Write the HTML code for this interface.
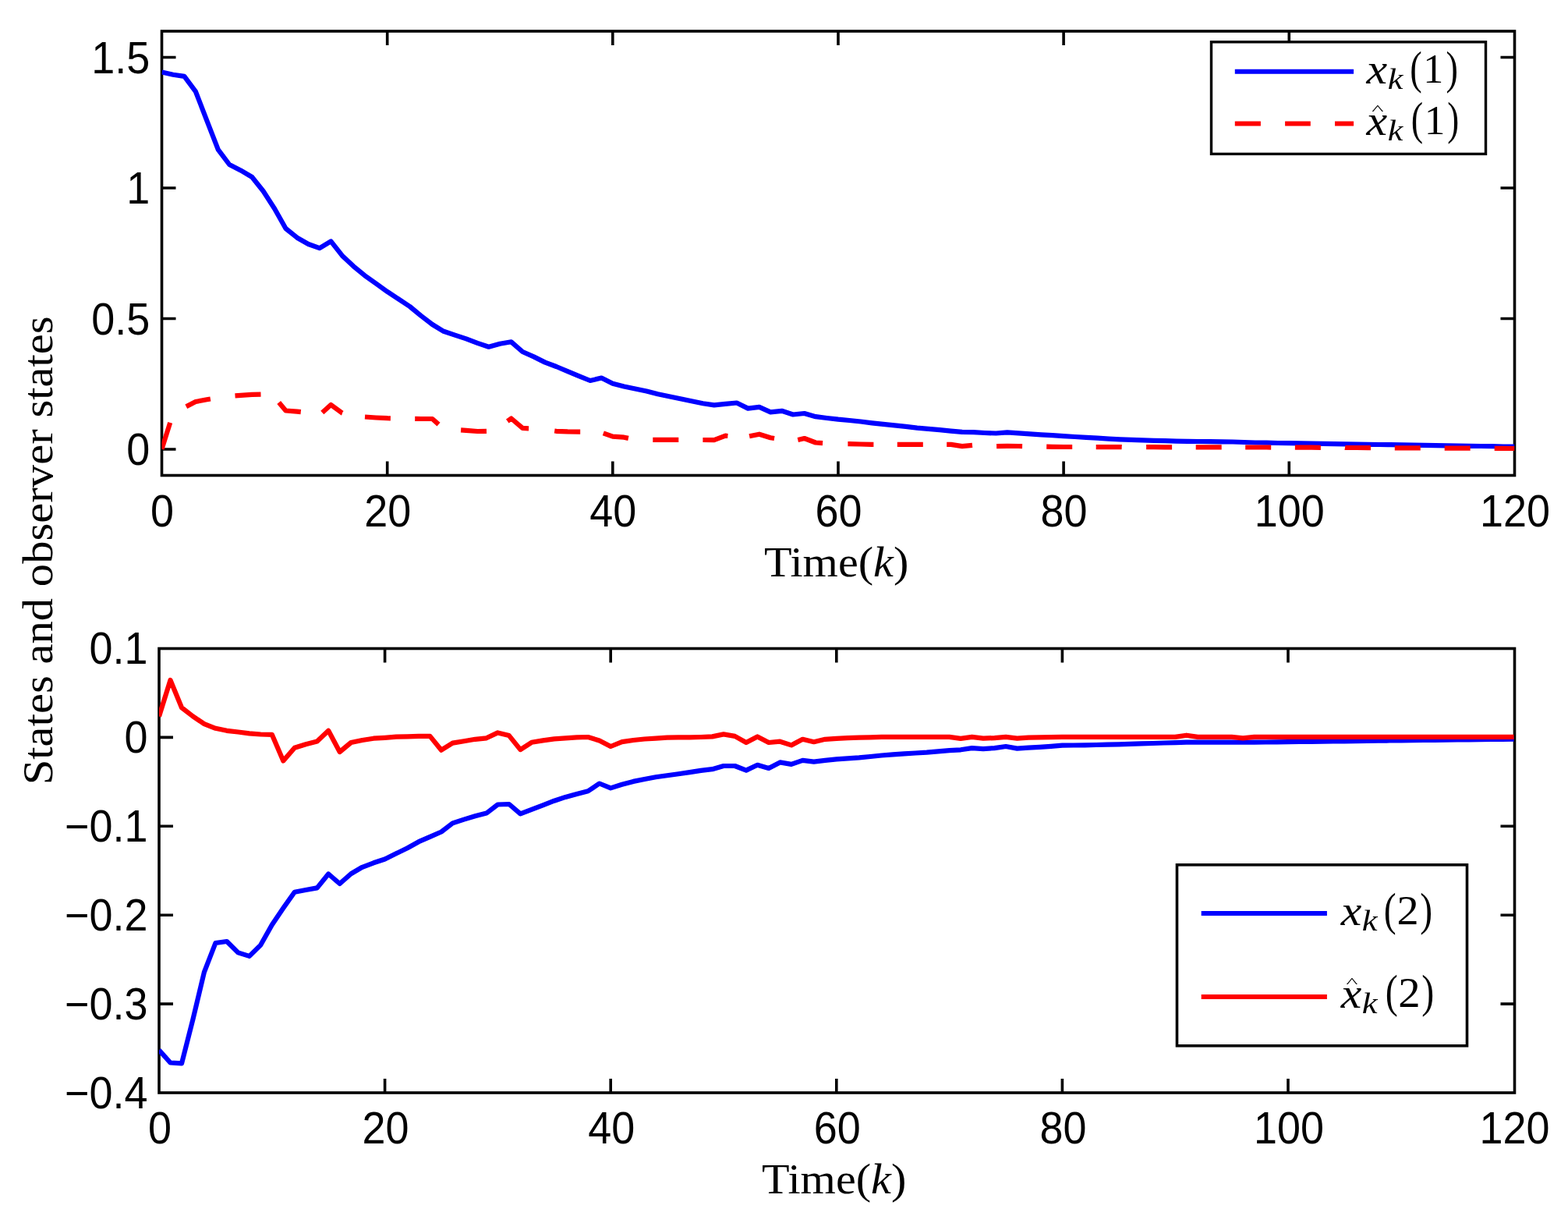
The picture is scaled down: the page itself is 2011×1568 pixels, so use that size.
<!DOCTYPE html>
<html><head><meta charset="utf-8"><title>States and observer states</title>
<style>html,body{margin:0;padding:0;background:#fff;overflow:hidden}svg{display:block}
.tk{font-family:"Liberation Sans",Arial,Helvetica,sans-serif;font-size:56.5px;fill:#000}
.lx{font-family:"Liberation Serif","Times New Roman",serif;fill:#000}
.it{font-style:italic}</style></head><body>
<svg width="2011" height="1568" viewBox="0 0 2011 1568">
<rect x="0" y="0" width="2011" height="1568" fill="#fff"/>
<defs><clipPath id="ct"><rect x="207.5" y="40" width="1735" height="569.5"/></clipPath><clipPath id="cb"><rect x="204" y="831.5" width="1738.5" height="569.5"/></clipPath></defs>
<rect x="207.5" y="40.0" width="1735.0" height="569.5" fill="none" stroke="#000" stroke-width="3.6"/>
<path d="M496.7 609.5V591.5M496.7 40.0V58.0M785.8 609.5V591.5M785.8 40.0V58.0M1075.0 609.5V591.5M1075.0 40.0V58.0M1364.1 609.5V591.5M1364.1 40.0V58.0M1653.3 609.5V591.5M1653.3 40.0V58.0M207.5 576.0H225.5M1942.5 576.0H1924.5M207.5 408.5H225.5M1942.5 408.5H1924.5M207.5 241.0H225.5M1942.5 241.0H1924.5M207.5 73.5H225.5M1942.5 73.5H1924.5" stroke="#000" stroke-width="3.6" fill="none"/>
<g clip-path="url(#ct)">
<path d="M207.5,92.4 L222.0,95.7 L236.4,97.9 L250.9,117.3 L265.3,154.6 L279.8,191.9 L294.2,211.0 L308.7,218.4 L323.2,227.0 L337.6,245.0 L352.1,267.5 L366.5,293.0 L381.0,304.7 L395.5,313.0 L409.9,318.2 L424.4,309.4 L438.8,327.7 L453.3,341.3 L467.7,353.2 L482.2,363.5 L496.7,373.9 L511.1,383.4 L525.6,393.0 L540.0,404.9 L554.5,416.0 L569.0,424.8 L583.4,429.6 L597.9,434.4 L612.3,439.9 L626.8,444.7 L641.2,440.7 L655.7,438.3 L670.2,451.0 L684.6,457.4 L699.1,464.6 L713.5,470.0 L728.0,476.1 L742.4,482.1 L756.9,488.0 L771.4,484.6 L785.8,491.8 L800.3,495.5 L814.7,498.5 L829.2,501.5 L843.7,505.2 L858.1,508.2 L872.6,511.2 L887.0,514.2 L901.5,517.2 L915.9,519.4 L930.4,517.9 L944.9,516.5 L959.3,523.6 L973.8,521.9 L988.2,528.3 L1002.7,526.8 L1017.1,531.5 L1031.6,530.0 L1046.1,534.2 L1060.5,536.0 L1075.0,537.7 L1089.4,539.0 L1103.9,540.5 L1118.4,542.3 L1132.8,543.8 L1147.3,545.3 L1161.7,546.8 L1176.2,548.6 L1190.6,549.8 L1205.1,551.2 L1219.6,552.7 L1234.0,553.9 L1248.5,554.2 L1262.9,555.0 L1277.4,555.5 L1291.8,554.4 L1306.3,555.4 L1320.8,556.3 L1335.2,557.3 L1349.7,558.2 L1364.1,559.2 L1378.6,560.0 L1393.1,560.9 L1407.5,561.7 L1422.0,562.6 L1436.4,563.4 L1450.9,563.9 L1465.3,564.3 L1479.8,564.8 L1494.3,565.2 L1508.7,565.7 L1523.2,565.9 L1537.6,566.0 L1552.1,566.2 L1566.6,566.3 L1581.0,566.5 L1595.5,567.0 L1609.9,567.5 L1624.4,567.7 L1638.8,568.0 L1653.3,568.2 L1667.8,568.4 L1682.2,568.6 L1696.7,568.9 L1711.1,569.1 L1725.6,569.3 L1740.0,569.5 L1754.5,569.8 L1769.0,570.0 L1783.4,570.2 L1797.9,570.4 L1812.3,570.7 L1826.8,570.9 L1841.3,571.1 L1855.7,571.3 L1870.2,571.6 L1884.6,571.8 L1899.1,572.0 L1913.5,572.2 L1928.0,572.5 L1942.5,572.7" fill="none" stroke="#0000ff" stroke-width="6.2" stroke-linejoin="round"/>
<path d="M207.5,575.7 L218.2,541.9M238.8,521.3 L250.9,515.0 L265.3,512.3 L269.9,511.5M301.5,507.3 L308.7,506.8 L323.2,505.9 L334.5,505.6M357.7,516.1 L366.5,526.5 L381.0,527.7 L385.8,528.2M413.3,529.0 L424.4,519.0 L438.8,529.5 L439.1,529.6M468.0,534.5 L482.2,535.5 L496.7,536.2 L500.9,536.3M532.2,536.9 L540.0,537.0 L554.5,537.0 L562.5,544.1M591.1,551.4 L597.9,551.9 L612.3,553.0 L624.0,552.8M650.8,540.0 L655.7,536.5 L670.2,548.9 L678.1,549.3M711.2,552.5 L713.5,552.8 L728.0,553.4 L742.4,553.6 L744.2,553.6M773.8,555.3 L785.8,559.7 L800.3,560.7 L805.9,561.9M837.3,563.9 L843.7,563.9 L858.1,563.9 L870.3,563.9M901.4,564.0 L901.5,564.0 L915.9,564.1 L930.4,558.7 L933.4,559.0M961.1,559.3 L973.8,556.7 L988.2,561.2 L993.1,562.0M1023.3,563.9 L1031.6,562.0 L1046.1,567.5 L1055.1,568.1M1087.4,569.1 L1089.4,569.1 L1103.9,569.5 L1118.4,569.9 L1120.4,569.9M1150.8,569.9 L1161.7,569.9 L1176.2,569.9 L1183.8,569.9M1214.2,569.9 L1219.6,569.9 L1234.0,572.1 L1247.0,570.8M1278.1,572.1 L1291.8,571.8 L1306.3,572.0 L1311.1,572.1M1342.2,572.6 L1349.7,572.8 L1364.1,573.0 L1375.2,573.0M1405.7,573.1 L1407.5,573.1 L1422.0,573.1 L1436.4,573.1 L1438.7,573.2M1470.1,573.2 L1479.8,573.2 L1494.3,573.3 L1503.1,573.3M1533.7,573.4 L1537.6,573.4 L1552.1,573.4 L1566.6,573.4 L1566.7,573.4M1597.2,573.5 L1609.9,573.5 L1624.4,573.5 L1630.2,573.6M1660.9,573.6 L1667.8,573.7 L1682.2,573.7 L1693.9,573.8M1725.0,573.9 L1725.6,574.0 L1740.0,574.0 L1754.5,574.1 L1758.0,574.1M1788.8,574.3 L1797.9,574.3 L1812.3,574.4 L1821.8,574.4M1852.7,574.6 L1855.7,574.6 L1870.2,574.6 L1884.6,574.7 L1885.7,574.7M1916.7,574.9 L1928.0,574.9 L1942.5,575.0" fill="none" stroke="#ff0000" stroke-width="6.2" stroke-linejoin="round"/>
</g>
<text class="tk" text-anchor="middle" transform="translate(208.0 675) scale(0.955 1)">0</text>
<text class="tk" text-anchor="middle" transform="translate(497.2 675) scale(0.955 1)">20</text>
<text class="tk" text-anchor="middle" transform="translate(786.3 675) scale(0.955 1)">40</text>
<text class="tk" text-anchor="middle" transform="translate(1075.5 675) scale(0.955 1)">60</text>
<text class="tk" text-anchor="middle" transform="translate(1364.6 675) scale(0.955 1)">80</text>
<text class="tk" text-anchor="middle" transform="translate(1653.8 675) scale(0.955 1)">100</text>
<text class="tk" text-anchor="middle" transform="translate(1943.0 675) scale(0.955 1)">120</text>
<text class="tk" text-anchor="end" transform="translate(192.3 596.3) scale(0.955 1)">0</text>
<text class="tk" text-anchor="end" transform="translate(192.3 428.8) scale(0.955 1)">0.5</text>
<text class="tk" text-anchor="end" transform="translate(192.3 261.3) scale(0.955 1)">1</text>
<text class="tk" text-anchor="end" transform="translate(192.3 93.8) scale(0.955 1)">1.5</text>
<rect x="204.0" y="831.5" width="1738.5" height="569.5" fill="none" stroke="#000" stroke-width="3.6"/>
<path d="M493.6 1401.0V1383.0M493.6 831.5V849.5M783.2 1401.0V1383.0M783.2 831.5V849.5M1072.8 1401.0V1383.0M1072.8 831.5V849.5M1362.4 1401.0V1383.0M1362.4 831.5V849.5M1652.0 1401.0V1383.0M1652.0 831.5V849.5M204.0 945.4H222.0M1942.5 945.4H1924.5M204.0 1059.3H222.0M1942.5 1059.3H1924.5M204.0 1173.2H222.0M1942.5 1173.2H1924.5M204.0 1287.1H222.0M1942.5 1287.1H1924.5" stroke="#000" stroke-width="3.6" fill="none"/>
<g clip-path="url(#cb)">
<path d="M204.0,1346.4 L218.5,1362.5 L233.0,1363.4 L247.4,1307.0 L261.9,1246.4 L276.4,1209.0 L290.9,1207.0 L305.4,1221.4 L319.8,1225.9 L334.3,1211.6 L348.8,1185.7 L363.3,1164.3 L377.8,1143.8 L392.2,1141.0 L406.7,1138.4 L421.2,1120.5 L435.7,1133.0 L450.2,1120.2 L464.6,1111.8 L479.1,1106.3 L493.6,1101.5 L508.1,1094.3 L522.6,1087.2 L537.0,1079.2 L551.5,1072.9 L566.0,1066.5 L580.5,1055.4 L595.0,1050.6 L609.4,1046.3 L623.9,1042.6 L638.4,1031.5 L652.9,1031.0 L667.4,1043.4 L681.8,1037.8 L696.3,1032.3 L710.8,1026.7 L725.3,1021.9 L739.8,1018.0 L754.2,1014.3 L768.7,1004.5 L783.2,1010.4 L797.7,1005.8 L812.2,1001.9 L826.6,999.0 L841.1,996.3 L855.6,994.3 L870.1,992.3 L884.6,990.1 L899.0,987.9 L913.5,986.2 L928.0,982.0 L942.5,982.0 L957.0,987.6 L971.4,980.8 L985.9,985.0 L1000.4,977.4 L1014.9,979.9 L1029.4,974.9 L1043.8,976.6 L1058.3,974.9 L1072.8,973.4 L1087.3,972.4 L1101.8,971.4 L1116.2,970.0 L1130.7,968.5 L1145.2,967.4 L1159.7,966.3 L1174.2,965.5 L1188.6,964.7 L1203.1,963.4 L1217.6,962.1 L1232.1,961.3 L1246.6,959.1 L1261.0,960.1 L1275.5,959.1 L1290.0,957.0 L1304.5,959.6 L1319.0,958.7 L1333.4,957.9 L1347.9,956.8 L1362.4,955.7 L1376.9,955.5 L1391.4,955.4 L1405.8,955.0 L1420.3,954.6 L1434.8,954.3 L1449.3,953.9 L1463.8,953.4 L1478.2,953.0 L1492.7,952.5 L1507.2,952.1 L1521.7,951.6 L1536.2,951.6 L1550.6,951.6 L1565.1,951.6 L1579.6,951.6 L1594.1,951.6 L1608.6,951.6 L1623.0,951.5 L1637.5,951.3 L1652.0,951.2 L1666.5,951.0 L1681.0,950.9 L1695.4,950.7 L1709.9,950.5 L1724.4,950.3 L1738.9,950.1 L1753.4,949.9 L1767.8,949.7 L1782.3,949.5 L1796.8,949.3 L1811.3,949.1 L1825.8,948.9 L1840.2,948.8 L1854.7,948.6 L1869.2,948.5 L1883.7,948.3 L1898.2,948.2 L1912.6,948.0 L1927.1,947.9 L1941.6,947.7" fill="none" stroke="#0000ff" stroke-width="6.2" stroke-linejoin="round"/>
<path d="M204.0,918.5 L218.5,872.0 L233.0,907.2 L247.4,918.4 L261.9,928.1 L276.4,933.8 L290.9,936.8 L305.4,938.5 L319.8,940.3 L334.3,941.5 L348.8,941.8 L363.3,975.5 L377.8,958.7 L392.2,954.2 L406.7,950.5 L421.2,936.8 L435.7,964.0 L450.2,952.0 L464.6,949.0 L479.1,946.7 L493.6,945.8 L508.1,944.7 L522.6,944.3 L537.0,943.9 L551.5,943.9 L566.0,961.7 L580.5,952.6 L595.0,950.2 L609.4,947.8 L623.9,946.3 L638.4,939.4 L652.9,943.1 L667.4,961.1 L681.8,951.8 L696.3,949.4 L710.8,947.4 L725.3,946.3 L739.8,945.4 L754.2,945.0 L768.7,949.5 L783.2,957.0 L797.7,951.1 L812.2,949.0 L826.6,947.5 L841.1,946.6 L855.6,945.6 L870.1,945.3 L884.6,945.3 L899.0,945.0 L913.5,944.4 L928.0,941.4 L942.5,943.9 L957.0,952.0 L971.4,944.4 L985.9,952.0 L1000.4,950.7 L1014.9,955.4 L1029.4,947.8 L1043.8,951.2 L1058.3,947.8 L1072.8,946.8 L1087.3,946.2 L1101.8,945.7 L1116.2,945.3 L1130.7,944.9 L1145.2,944.9 L1159.7,944.9 L1174.2,944.9 L1188.6,944.9 L1203.1,944.9 L1217.6,944.9 L1232.1,946.9 L1246.6,944.9 L1261.0,946.6 L1275.5,946.1 L1290.0,944.9 L1304.5,946.6 L1319.0,945.6 L1333.4,945.4 L1347.9,945.1 L1362.4,944.9 L1376.9,944.9 L1391.4,944.9 L1405.8,944.9 L1420.3,944.9 L1434.8,944.9 L1449.3,944.9 L1463.8,944.9 L1478.2,944.9 L1492.7,944.9 L1507.2,944.9 L1521.7,942.7 L1536.2,944.9 L1550.6,944.9 L1565.1,944.9 L1579.6,944.9 L1594.1,946.4 L1608.6,944.9 L1623.0,944.9 L1637.5,944.9 L1652.0,944.9 L1666.5,944.9 L1681.0,944.9 L1695.4,944.9 L1709.9,944.9 L1724.4,944.9 L1738.9,944.9 L1753.4,944.9 L1767.8,944.9 L1782.3,944.9 L1796.8,944.9 L1811.3,944.9 L1825.8,944.9 L1840.2,944.9 L1854.7,944.9 L1869.2,944.9 L1883.7,944.9 L1898.2,944.9 L1912.6,944.9 L1927.1,944.9 L1941.6,944.9" fill="none" stroke="#ff0000" stroke-width="6.2" stroke-linejoin="round"/>
</g>
<text class="tk" text-anchor="middle" transform="translate(205.0 1466) scale(0.955 1)">0</text>
<text class="tk" text-anchor="middle" transform="translate(494.6 1466) scale(0.955 1)">20</text>
<text class="tk" text-anchor="middle" transform="translate(784.2 1466) scale(0.955 1)">40</text>
<text class="tk" text-anchor="middle" transform="translate(1073.8 1466) scale(0.955 1)">60</text>
<text class="tk" text-anchor="middle" transform="translate(1363.4 1466) scale(0.955 1)">80</text>
<text class="tk" text-anchor="middle" transform="translate(1653.0 1466) scale(0.955 1)">100</text>
<text class="tk" text-anchor="middle" transform="translate(1942.6 1466) scale(0.955 1)">120</text>
<text class="tk" text-anchor="end" transform="translate(189.4 851.3) scale(0.955 1)">0.1</text>
<text class="tk" text-anchor="end" transform="translate(189.4 965.2) scale(0.955 1)">0</text>
<text class="tk" text-anchor="end" transform="translate(189.4 1079.1) scale(0.955 1)">−0.1</text>
<text class="tk" text-anchor="end" transform="translate(189.4 1193.0) scale(0.955 1)">−0.2</text>
<text class="tk" text-anchor="end" transform="translate(189.4 1306.9) scale(0.955 1)">−0.3</text>
<text class="tk" text-anchor="end" transform="translate(189.4 1420.8) scale(0.955 1)">−0.4</text>
<text class="lx" x="979.9" y="739.1" font-size="55" textLength="185.5" lengthAdjust="spacingAndGlyphs">Time(<tspan class="it">k</tspan>)</text>
<text class="lx" x="976.9" y="1529.7" font-size="55" textLength="185.5" lengthAdjust="spacingAndGlyphs">Time(<tspan class="it">k</tspan>)</text>
<text class="lx" transform="translate(67.3 1002.3) rotate(-90)" x="-4" y="0" font-size="54" textLength="601" lengthAdjust="spacingAndGlyphs">States and observer states</text>
<rect x="1553.5" y="53.8" width="352" height="143.6" fill="#fff" stroke="#000" stroke-width="3.4"/>
<path d="M1583.8 91.8H1736.1" stroke="#0000ff" stroke-width="6"/>
<path d="M1583.8 158.4H1616.9M1648.1 158.4H1680.8M1712 158.4H1736.1" stroke="#ff0000" stroke-width="6"/>
<text class="lx it" font-size="53.91" transform="translate(1752.60 106.80) scale(1.1129 1)">x</text>
<text class="lx it" font-size="37.83" transform="translate(1779.67 113.90) scale(1.1743 1)">k</text>
<text class="lx" font-size="59.00" transform="translate(1808.14 106.51) scale(0.7888 1)">(</text>
<text class="lx" font-size="53.33" transform="translate(1825.32 106.00) scale(0.9750 1)">1</text>
<text class="lx" font-size="59.00" transform="translate(1854.60 106.51) scale(0.7888 1)">)</text>
<text class="lx" font-size="17.39" transform="translate(1759.35 146.30) scale(1.8721 1)">^</text>
<text class="lx it" font-size="54.13" transform="translate(1752.60 172.80) scale(1.1084 1)">x</text>
<text class="lx it" font-size="37.83" transform="translate(1779.67 179.80) scale(1.1681 1)">k</text>
<text class="lx" font-size="58.56" transform="translate(1809.85 172.10) scale(0.7882 1)">(</text>
<text class="lx" font-size="53.48" transform="translate(1826.79 172.00) scale(0.9989 1)">1</text>
<text class="lx" font-size="58.56" transform="translate(1856.35 172.10) scale(0.7685 1)">)</text>
<rect x="1509.5" y="1108.8" width="372" height="232" fill="#fff" stroke="#000" stroke-width="3.6"/>
<path d="M1540.7 1171H1701.9" stroke="#0000ff" stroke-width="6"/>
<path d="M1540.7 1278H1701.9" stroke="#ff0000" stroke-width="6"/>
<text class="lx it" font-size="55.43" transform="translate(1719.70 1186.10) scale(1.0783 1)">x</text>
<text class="lx it" font-size="37.68" transform="translate(1746.86 1193.10) scale(1.1850 1)">k</text>
<text class="lx" font-size="59.00" transform="translate(1774.69 1185.61) scale(0.8083 1)">(</text>
<text class="lx" font-size="52.92" transform="translate(1791.45 1184.70) scale(1.0629 1)">2</text>
<text class="lx" font-size="59.00" transform="translate(1821.27 1185.61) scale(0.8083 1)">)</text>
<text class="lx" font-size="17.61" transform="translate(1726.57 1265.35) scale(1.7962 1)">^</text>
<text class="lx it" font-size="54.13" transform="translate(1719.70 1291.80) scale(1.1043 1)">x</text>
<text class="lx it" font-size="38.55" transform="translate(1746.86 1299.40) scale(1.1582 1)">k</text>
<text class="lx" font-size="59.11" transform="translate(1776.78 1291.39) scale(0.8133 1)">(</text>
<text class="lx" font-size="53.85" transform="translate(1793.33 1291.00) scale(1.0539 1)">2</text>
<text class="lx" font-size="59.11" transform="translate(1823.36 1291.39) scale(0.8133 1)">)</text>
</svg>
</body></html>
